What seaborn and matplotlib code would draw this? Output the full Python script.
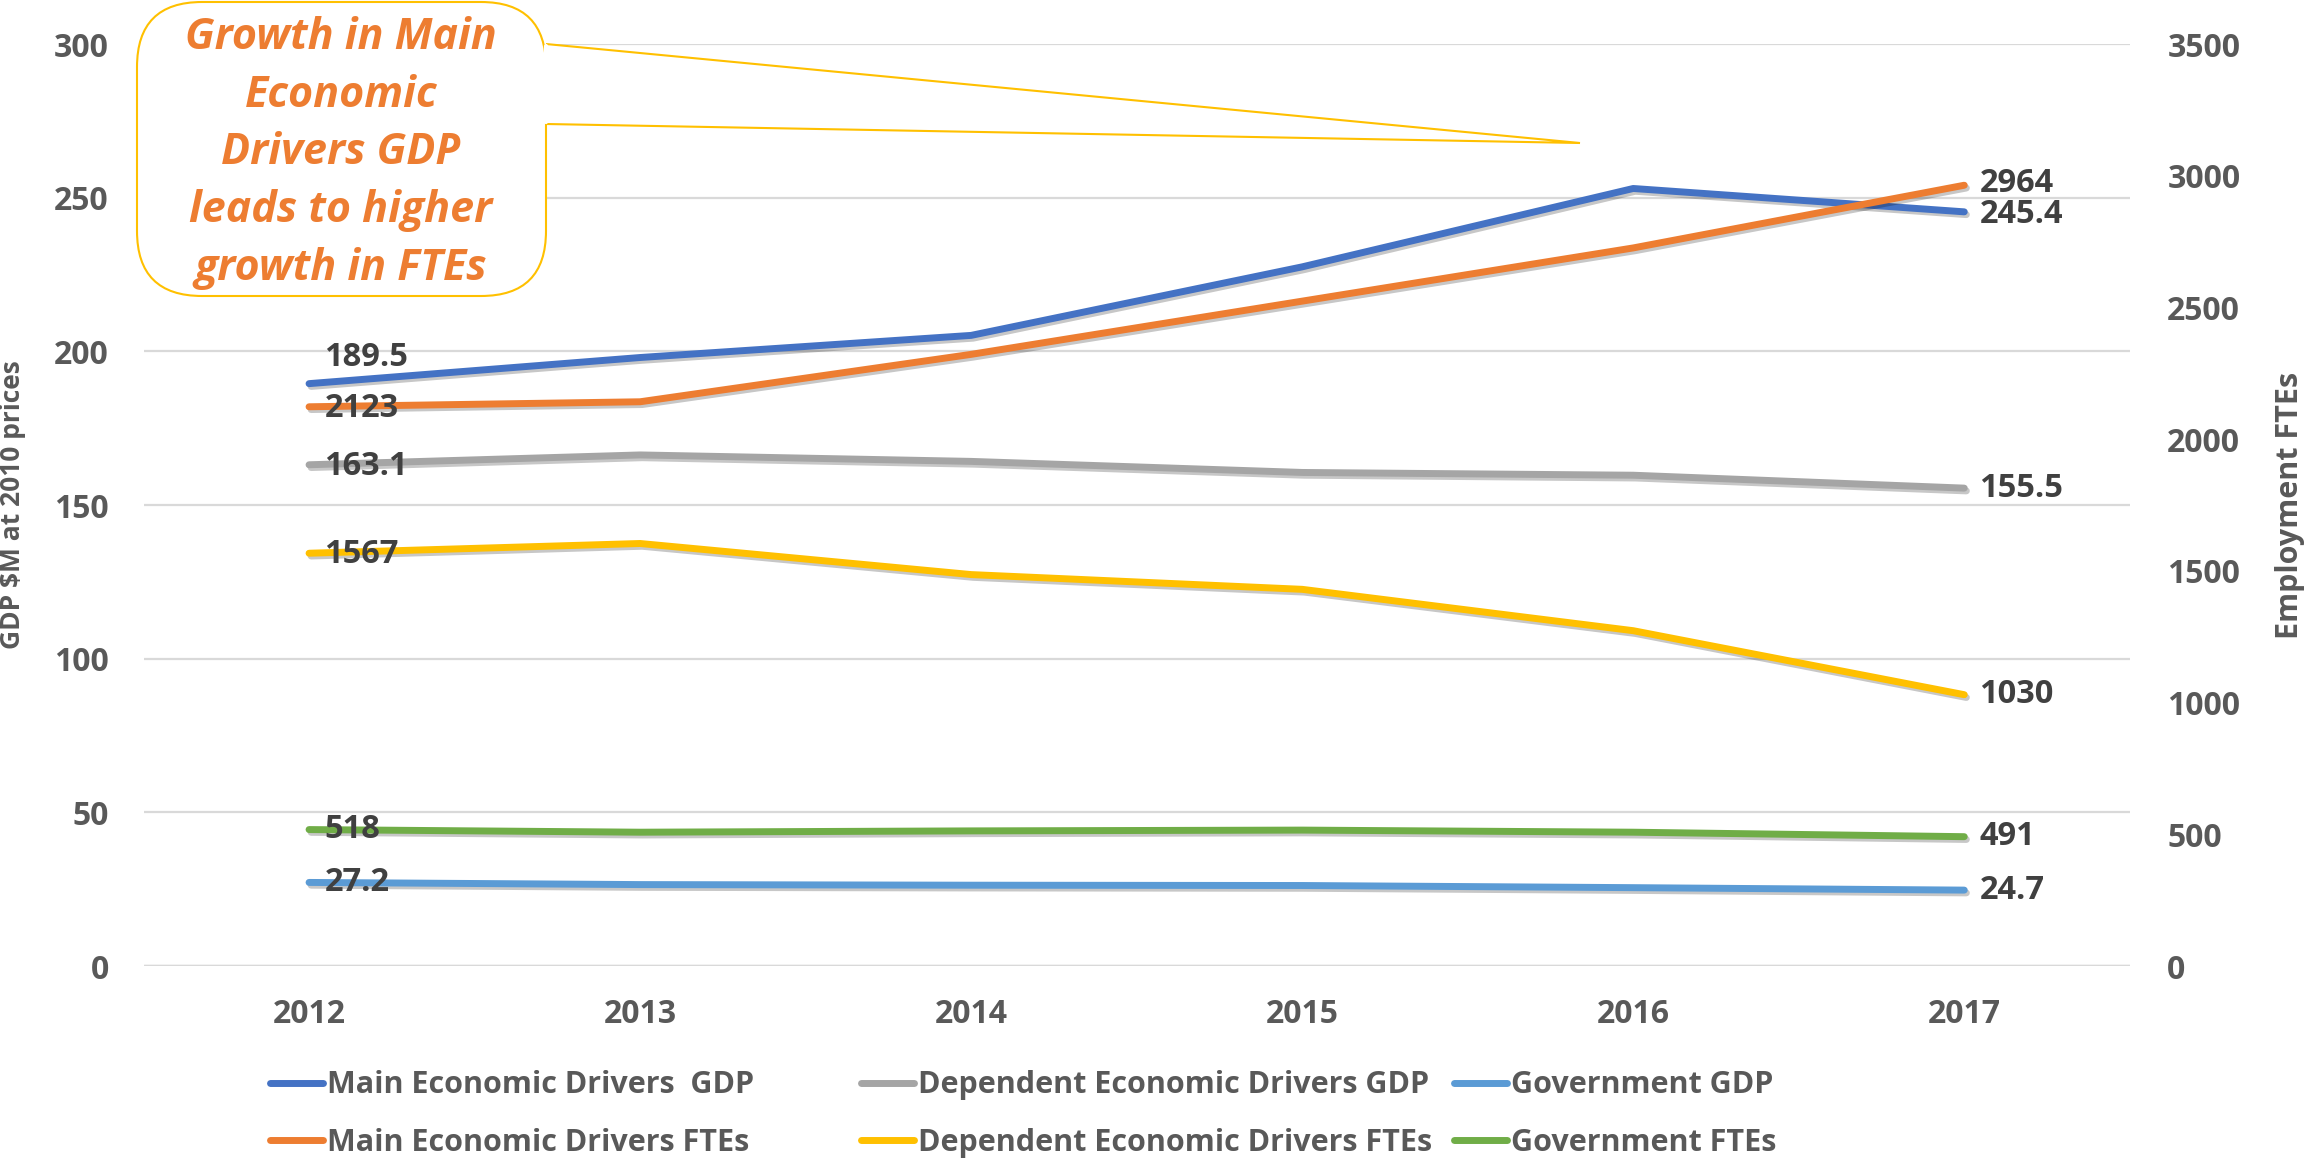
import pandas as pd
import matplotlib.pyplot as plt
import seaborn as sns
from matplotlib.lines import Line2D
from matplotlib.patches import FancyBboxPatch, Polygon
import matplotlib.patheffects as pe

# ---------------------------------
# data
# ---------------------------------
years = [2012, 2013, 2014, 2015, 2016, 2017]

main_gdp = [189.5, 198.0, 205.2, 227.5, 253.0, 245.4]
dep_gdp = [163.1, 166.3, 164.2, 160.6, 159.7, 155.5]
gov_gdp = [27.2, 26.5, 26.3, 26.2, 25.5, 24.7]

main_fte = [2123, 2142, 2322, 2524, 2726, 2964]
dep_fte = [1567, 1604, 1486, 1430, 1273, 1030]
gov_fte = [518, 508, 513, 516, 508, 491]

gdp_names = ['Main Economic Drivers  GDP', 'Dependent Economic Drivers GDP', 'Government GDP']
fte_names = ['Main Economic Drivers FTEs', 'Dependent Economic Drivers FTEs', 'Government FTEs']

colors = {
    'Main Economic Drivers  GDP': '#4472C4',
    'Dependent Economic Drivers GDP': '#A5A5A5',
    'Government GDP': '#5B9BD5',
    'Main Economic Drivers FTEs': '#ED7D31',
    'Dependent Economic Drivers FTEs': '#FFC000',
    'Government FTEs': '#70AD47',
}

callout = 'Growth in Main\nEconomic\nDrivers GDP\nleads to higher\ngrowth in FTEs'

gdp_df = pd.DataFrame({
    'year': years * 3,
    'value': main_gdp + dep_gdp + gov_gdp,
    'series': [n for n in gdp_names for _ in years],
})
fte_df = pd.DataFrame({
    'year': years * 3,
    'value': main_fte + dep_fte + gov_fte,
    'series': [n for n in fte_names for _ in years],
})

# ---------------------------------
# style
# ---------------------------------
sns.set_style('white')
plt.rcParams['font.family'] = ['Open Sans', 'DejaVu Sans']
plt.rcParams['font.weight'] = 'bold'
TXT = '#595959'
LBL = '#404040'
FS = 23

fig = plt.figure(figsize=(23.15, 11.59), dpi=100)
ax = fig.add_axes([0.062, 0.1665, 0.858, 0.7955])
ax2 = ax.twinx()

sns.lineplot(data=gdp_df, x='year', y='value', hue='series', hue_order=gdp_names,
             palette=colors, linewidth=5, ax=ax, legend=False, sort=False)
sns.lineplot(data=fte_df, x='year', y='value', hue='series', hue_order=fte_names,
             palette=colors, linewidth=5, ax=ax2, legend=False, sort=False)

shadow = [pe.SimpleLineShadow(offset=(1.5, -2), alpha=0.22, shadow_color='black'), pe.Normal()]
for ln in ax.lines + ax2.lines:
    ln.set_path_effects(shadow)
    ln.set_solid_capstyle('round')

ax.set_xlim(2011.5, 2017.5)
ax.set_ylim(0, 300)
ax2.set_ylim(0, 3500)
ax.set_xticks(years)
ax.set_xticklabels([str(y) for y in years])
ax.set_yticks(range(0, 301, 50))
ax2.set_yticks(range(0, 3501, 500))

ax.grid(axis='y', color='#D9D9D9', linewidth=1.6)
ax.grid(axis='x', visible=False)
ax2.grid(False)
ax.axhline(0, color='#D9D9D9', linewidth=2.5, zorder=1)
for a in (ax, ax2):
    for s in a.spines.values():
        s.set_visible(False)
    a.set_xlabel('')
    a.set_ylabel('')

ax.tick_params(axis='y', length=0, pad=25, labelsize=FS, labelcolor=TXT)
ax.tick_params(axis='x', length=0, pad=23, labelsize=FS, labelcolor=TXT)
ax2.tick_params(axis='y', length=0, pad=27, labelsize=FS, labelcolor=TXT)

ax.set_ylabel('GDP $M at 2010 prices', fontsize=19, color=TXT, fontweight='bold')
ax.yaxis.set_label_coords(-0.0594, 0.5)
ax2.set_ylabel('Employment FTEs', fontsize=22, color=TXT, fontweight='bold')
ax2.yaxis.set_label_coords(1.073, 0.5)

# ---------------------------------
# data labels at first and last year
# ---------------------------------
def label(a, x, y, txt, dy=0):
    a.annotate(txt, (x, y), xytext=(11, dy), textcoords='offset points',
               ha='left', va='center', fontsize=23.5, color=LBL, fontweight='bold')

label(ax, years[0], main_gdp[0], f'{main_gdp[0]}', dy=19)
label(ax2, years[0], main_fte[0], f'{main_fte[0]}', dy=-1)
label(ax, years[0], dep_gdp[0], f'{dep_gdp[0]}', dy=-1)
label(ax2, years[0], dep_fte[0], f'{dep_fte[0]}', dy=-1)
label(ax2, years[0], gov_fte[0], f'{gov_fte[0]}')
label(ax, years[0], gov_gdp[0], f'{gov_gdp[0]}')

label(ax2, years[-1], main_fte[-1], f'{main_fte[-1]}', dy=1)
label(ax, years[-1], main_gdp[-1], f'{main_gdp[-1]}', dy=-2)
label(ax, years[-1], dep_gdp[-1], f'{dep_gdp[-1]}')
label(ax2, years[-1], dep_fte[-1], f'{dep_fte[-1]}')
label(ax2, years[-1], gov_fte[-1], f'{gov_fte[-1]}')
label(ax, years[-1], gov_gdp[-1], f'{gov_gdp[-1]}')

# ---------------------------------
# callout box
# ---------------------------------
tr = fig.dpi_scale_trans
box = FancyBboxPatch((1.37, 8.63), 4.09, 2.94, boxstyle='round,pad=0,rounding_size=0.65',
                     facecolor='white', edgecolor='#FFC000', linewidth=1.5, transform=tr)
fig.add_artist(box)
wedge = Polygon([(5.46, 11.15), (15.80, 10.16), (5.46, 10.35)], closed=False,
                facecolor='white', edgecolor='#FFC000', linewidth=1.5, transform=tr)
fig.add_artist(wedge)
fig.add_artist(Line2D([5.46, 5.46], [10.37, 11.13], color='white', linewidth=3, transform=tr))
fig.text(3.41, 10.06, callout, transform=tr, ha='center', va='center', fontsize=31,
         color='#ED7D31', fontweight='bold', fontstyle='italic', linespacing=1.45)

# ---------------------------------
# legend, three columns
# ---------------------------------
col_x = [2.70, 8.61, 14.54]
for i, cx in enumerate(col_x):
    names = [gdp_names[i], fte_names[i]]
    handles = [Line2D([], [], color=colors[n], linewidth=5, solid_capstyle='round') for n in names]
    leg = fig.legend(handles, names, loc='center left', bbox_to_anchor=(cx, 0.45),
                     bbox_transform=tr, frameon=False, fontsize=22, handlelength=1.75,
                     handletextpad=0.1, borderpad=0, borderaxespad=0, labelspacing=0.9)
    for t in leg.get_texts():
        t.set_color(TXT)

plt.savefig('out.png', dpi=100)
